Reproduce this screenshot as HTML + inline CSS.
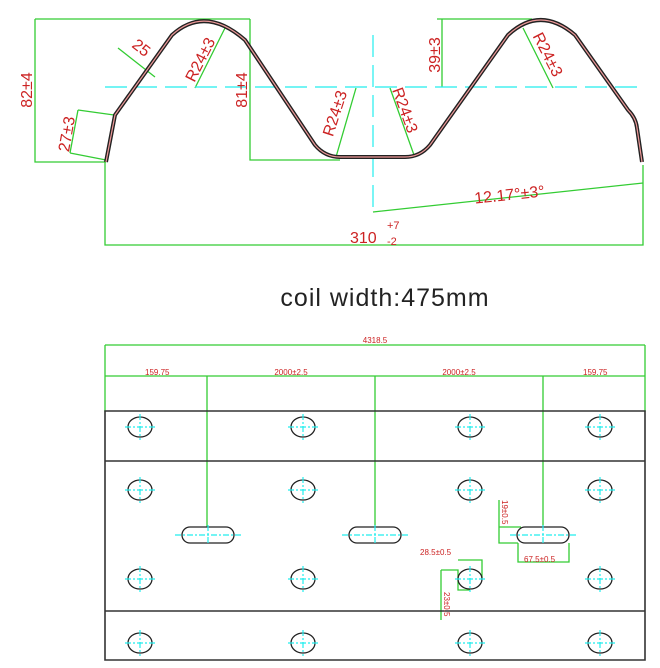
<!DOCTYPE html>
<html><head><style>html,body{margin:0;padding:0;background:#fff}svg{display:block}</style></head><body>
<svg width="660" height="668" viewBox="0 0 660 668" xmlns="http://www.w3.org/2000/svg" font-family="Liberation Sans, sans-serif">
<defs>
<g id="h"><ellipse cx="0" cy="0" rx="12" ry="10" fill="none" stroke="#222" stroke-width="1.3"/><path d="M-15 0H15M0-13V13" stroke="#2ee" stroke-width="1.2" stroke-dasharray="6 2 2 2"/></g>
<g id="s"><rect x="-26" y="-8" width="52" height="16" rx="8" fill="none" stroke="#222" stroke-width="1.3"/><path d="M-33 0H33M0-10V10" stroke="#2ee" stroke-width="1.2" stroke-dasharray="6 2 2 2"/></g>
</defs>
<g stroke="#3c3" stroke-width="1.3" fill="none">
<path d="M35 19H250M35 19V162H106M250 19V160H340"/>
<path d="M105 162V245H643V165M373 212L643 183"/>
<path d="M437 19H532M442 19V87"/>
<path d="M78 110L114 115M70 153L106 160M78 110L70 153"/>
<path d="M118 48L155 77M195 88L225 28M336 157L356 88M414 155L390 88M553 28L553 28M523 28L553 88"/>
</g>
<g stroke="#2ee" stroke-width="1.2" stroke-dasharray="22 8">
<path d="M105 87H645M373 35V210"/>
</g>
<path d="M106 162L115 115L172 35Q205 5 245 40L315 145Q325 157 340 157H405Q420 157 430 145L508 35Q540 5 575 35L628 110Q636 118 637 128L642 162" fill="none" stroke="#222" stroke-width="4"/>
<path d="M106 162L115 115L172 35Q205 5 245 40L315 145Q325 157 340 157H405Q420 157 430 145L508 35Q540 5 575 35L628 110Q636 118 637 128L642 162" fill="none" stroke="#e99" stroke-width="1.2"/>
<g fill="#c22" font-size="16">
<text transform="translate(32 90) rotate(-90)" text-anchor="middle">82±4</text>
<text transform="translate(247 90) rotate(-90)" text-anchor="middle">81±4</text>
<text transform="translate(440 55) rotate(-90)" text-anchor="middle">39±3</text>
<text transform="translate(72 135) rotate(-80)" text-anchor="middle">27±3</text>
<text transform="translate(138 52) rotate(38)" text-anchor="middle">25</text>
<text transform="translate(205 62) rotate(-63)" text-anchor="middle">R24±3</text>
<text transform="translate(340 115) rotate(-72)" text-anchor="middle">R24±3</text>
<text transform="translate(400 112) rotate(70)" text-anchor="middle">R24±3</text>
<text transform="translate(543 57) rotate(63)" text-anchor="middle">R24±3</text>
<text transform="translate(510 200) rotate(-6)" text-anchor="middle">12.17°±3°</text>
<text x="350" y="243">310</text><text x="387" y="229" font-size="11">+7</text><text x="387" y="245" font-size="11">-2</text>
</g>
<text x="385" y="306" text-anchor="middle" font-size="25" fill="#222" letter-spacing="1">coil width:475mm</text>
<g stroke="#3c3" stroke-width="1.3" fill="none">
<path d="M105 345H645M105 345V412M645 345V412M105 376H645M207 376V527M375 376V527M543 376V527"/>
<path d="M499 500V527H521M499 527V543H518M518 543V562H569V543"/>
<path d="M458 560H482V578M441 570H458V590H470M441 570V620"/>
</g>
<path d="M105 411H645V660H105ZM105 461H645M105 611H645" fill="none" stroke="#333" stroke-width="1.6"/>
<g fill="#c22" font-size="8">
<text x="375" y="343" text-anchor="middle">4318.5</text>
<text x="145" y="375">159.75</text><text x="291" y="375" text-anchor="middle">2000±2.5</text><text x="459" y="375" text-anchor="middle">2000±2.5</text><text x="583" y="375">159.75</text>
<text x="420" y="555">28.5±0.5</text><text x="524" y="562">67.5±0.5</text>
<text transform="translate(502 500) rotate(90)">19±0.5</text>
<text transform="translate(444 592) rotate(90)">23±0.5</text>
</g>
<g>
<use href="#h" x="140" y="427"/><use href="#h" x="303" y="427"/><use href="#h" x="470" y="427"/><use href="#h" x="600" y="427"/>
<use href="#h" x="140" y="490"/><use href="#h" x="303" y="490"/><use href="#h" x="470" y="490"/><use href="#h" x="600" y="490"/>
<use href="#h" x="140" y="579"/><use href="#h" x="303" y="579"/><use href="#h" x="470" y="579"/><use href="#h" x="600" y="579"/>
<use href="#h" x="140" y="643"/><use href="#h" x="303" y="643"/><use href="#h" x="470" y="643"/><use href="#h" x="600" y="643"/>
<use href="#s" x="208" y="535"/><use href="#s" x="375" y="535"/><use href="#s" x="543" y="535"/>
</g>
</svg>
</body></html>
